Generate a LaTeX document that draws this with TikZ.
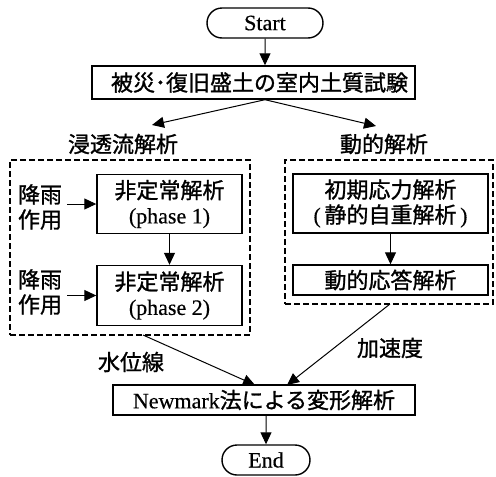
\documentclass[tikz,border=0pt]{standalone}
\usepackage{fontspec}
\setmainfont{Liberation Serif}[RawFeature={embolden=0.4}]
\newfontfamily\jp{Noto Sans CJK JP}[RawFeature={embolden=1.2}]
\usetikzlibrary{arrows.meta,shapes.misc}
\begin{document}
\begin{tikzpicture}[x=1pt,y=-1pt,
  every node/.style={font=\fontsize{22}{25}\selectfont, inner sep=0pt, align=center},
  jpt/.style={font=\fontsize{22}{25}\selectfont\jp},
  box/.style={draw, line width=1.4pt, rectangle},
  term/.style={draw, line width=1.4pt, rounded rectangle},
  dbox/.style={draw, line width=1.6pt, dash pattern=on 6pt off 3pt, rectangle},
  arr/.style={line width=1pt, -{Triangle[length=12pt,width=11pt]}}
]
\useasboundingbox (0,0) rectangle (496,477);
\node[term, minimum width=116pt, minimum height=30pt] (start) at (265,23) {Start};
\node[box, jpt, minimum width=323pt, minimum height=33pt] (b1) at (253.5,82.5) {\hspace*{12pt}被災･復旧盛土の室内土質試験};
\node[jpt] (seep) at (123,144) {浸透流解析};
\node[jpt] (dyn) at (384,144) {動的解析};
\node[dbox, minimum width=240pt, minimum height=175pt] (DL) at (130,247.5) {};
\node[dbox, minimum width=208pt, minimum height=144pt] (DR) at (389,232) {};
\node[box, minimum width=145pt, minimum height=59pt] (L1) at (169.5,204) {{\jp 非定常解析}\\(phase 1)};
\node[box, minimum width=145pt, minimum height=60pt] (L2) at (169.5,295.5) {{\jp 非定常解析}\\(phase 2)};
\node[jpt] (r1) at (40,207) {降雨\\作用};
\node[jpt] (r2) at (40,292) {降雨\\作用};
\node[box, minimum width=195pt, minimum height=59pt] (R1) at (390.5,203.5) {{\jp 初期応力解析}\\(\,{\jp 静的自重解析}\,)};
\node[box, jpt, minimum width=195pt, minimum height=30pt] (R2) at (390.5,280) {動的応答解析};
\node[jpt] (wl) at (131,362) {水位線};
\node[jpt] (acc) at (390,348) {加速度};
\node[box, minimum width=302pt, minimum height=30pt] (nm) at (264,400) {Newmark{\jp 法による変形解析}};
\node[term, minimum width=88pt, minimum height=30pt] (end) at (266,460) {End};
\coordinate (fork) at (b1.south -| start);
\coordinate (t1) at (152,125);
\coordinate (t2) at (376,126);
\coordinate (dlo) at (143,335);
\coordinate (dro) at (390,304);
\coordinate (n1) at (255,385);
\coordinate (n2) at (287,385);
\draw[arr] (start) -- (start |- b1.north);
\draw[arr] (fork) -- (t1);
\draw[arr] (fork) -- (t2);
\draw[arr] (L1) -- (L2);
\draw[arr] ([xshift=-29pt]L1.west) -- (L1.west);
\draw[arr] ([xshift=-29pt]L2.west) -- (L2.west);
\draw[arr] (R1) -- (R2);
\draw[arr] (dlo) -- (n1);
\draw[arr] (dro) -- (n2);
\draw[arr] (nm.south -| end) -- (end);
\end{tikzpicture}
\end{document}
